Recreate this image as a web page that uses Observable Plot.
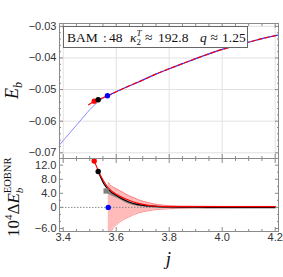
<!DOCTYPE html>
<html><head><meta charset="utf-8">
<script src="https://cdn.jsdelivr.net/npm/d3@7"></script>
<script src="https://cdn.jsdelivr.net/npm/@observablehq/plot@0.6"></script>
<style>
html,body{margin:0;padding:0;background:#fff;}
#wrap{position:relative;width:283px;height:277px;overflow:hidden;background:#fff;}
#wrap > svg{position:absolute;left:0;}
</style></head><body><div id="wrap"></div>
<script>
// ---------- axis ticks ----------
const xMajor = [3.4, 3.6, 3.8, 4.0, 4.2];
const xMinor = [3.45, 3.5, 3.55, 3.65, 3.7, 3.75, 3.85, 3.9, 3.95, 4.05, 4.1, 4.15];
const yTopMajor = [-0.07, -0.06, -0.05, -0.04, -0.03];
const yTopMinor = [-0.068, -0.066, -0.064, -0.062, -0.058, -0.056, -0.054, -0.052, -0.048, -0.046, -0.044, -0.042, -0.038, -0.036, -0.034, -0.032];
const yBotMajor = [-6, 0, 4, 8, 12];
const yBotMinor = [-4, -2, 2, 6, 10];

// ---------- top panel: E_b vs j ----------
const jLow = [3.386, 3.430, 3.470, 3.510, 3.530, 3.550, 3.567];
const eLow = [-0.0675, -0.0632, -0.0593, -0.0555, -0.0540, -0.0528, -0.0520];
const jMain = [3.567, 3.60, 3.65, 3.70, 3.75, 3.80, 3.85, 3.90, 3.95, 4.00, 4.05, 4.10, 4.15, 4.21];
const eMain = [-0.0520, -0.0507, -0.0488, -0.0470, -0.0451, -0.0434, -0.0418, -0.0402, -0.0387, -0.0373, -0.0361, -0.0350, -0.0339, -0.0328];
const jRedTop = [3.496, 3.517, 3.532, 3.550, 3.567];
const eRedTop = [-0.0548, -0.05375, -0.0532, -0.0526, -0.0520];
const jDotsTop = [3.517, 3.532, 3.567];
const eDotsTop = [-0.05366, -0.0532, -0.05195];
const dotColors = ["#ff0000", "#000000", "#0000ff"];

// ---------- bottom panel: 10^4 ΔE_b ----------
const jRed = [3.505, 3.517, 3.532, 3.550, 3.571, 3.608, 3.646, 3.683, 3.721, 3.759, 3.800, 3.900, 4.000, 4.100, 4.200];
const dRed = [15.0, 13.2, 10.5, 7.8, 5.5, 3.4, 2.1, 1.14, 0.57, 0.32, 0.22, 0.2, 0.2, 0.2, 0.2];
const jBlack = [3.532, 3.552, 3.571, 3.608, 3.646, 3.683, 3.721, 3.759, 3.800, 3.900, 4.000, 4.200];
const dBlack = [10.2, 6.9, 5.0, 3.05, 1.6, 0.76, 0.40, 0.22, 0.12, 0.04, 0.02, 0.0];
const jGray = [3.562, 3.580, 3.608, 3.646, 3.683, 3.721, 3.759, 3.800, 3.900, 4.000, 4.200];
const dGray = [4.66, 3.8, 2.9, 1.4, 0.7, 0.35, 0.18, 0.1, 0.03, 0.0, -0.02];
const jBand = [3.570, 3.574, 3.578, 3.583, 3.595, 3.608, 3.627, 3.646, 3.665, 3.683, 3.721, 3.759, 3.797, 3.834, 3.900, 4.000, 4.100, 4.200];
const bandLo = [-14, -9.5, -7.8, -6.6, -5.4, -4.5, -3.5, -2.8, -2.1, -1.6, -0.95, -0.57, -0.40, -0.25, -0.14, -0.08, -0.06, -0.05];
const bandHi = [7.1, 6.7, 6.4, 6.0, 5.5, 5.0, 4.2, 3.4, 2.8, 2.2, 1.34, 0.77, 0.49, 0.35, 0.30, 0.28, 0.28, 0.28];
const jDotsBot = [3.517, 3.532, 3.570];
const dDotsBot = [13.2, 10.2, 0];
const jSquare = [3.562];
const dSquare = [4.66];

// ---------- build tables ----------
const zip = (xs, ys) => xs.map((x, i) => ({x, y: ys[i]}));
const low = zip(jLow, eLow), main = zip(jMain, eMain), redTop = zip(jRedTop, eRedTop);
const dotsTop = jDotsTop.map((x, i) => ({x, y: eDotsTop[i], c: dotColors[i]}));
const red = zip(jRed, dRed), black = zip(jBlack, dBlack), gray = zip(jGray, dGray);
const band = jBand.map((x, i) => ({x, lo: bandLo[i], hi: bandHi[i]}));
const dotsBot = jDotsBot.map((x, i) => ({x, y: dDotsBot[i], c: dotColors[i]}));
const square = zip(jSquare, dSquare);

const FRAME = "#8a8a8a", LABEL = "#333";
const xDomain = [3.386, 4.2125];
const none = () => "";
const commonStyle = {fontFamily: "'Liberation Sans', Arial, sans-serif", fontSize: "11px", color: LABEL, background: "transparent"};

function frameTicks(yMajor, yMinor, yFmt, xLabels) {
  return [
    Plot.axisY({ticks: yMajor, anchor: "left", tickSize: -4, tickPadding: 7, tickFormat: yFmt, label: null, stroke: FRAME, fill: LABEL}),
    Plot.axisY({ticks: yMinor, anchor: "left", tickSize: -2, tickFormat: none, label: null, stroke: FRAME}),
    Plot.axisY({ticks: yMajor, anchor: "right", tickSize: -4, tickFormat: none, label: null, stroke: FRAME}),
    Plot.axisY({ticks: yMinor, anchor: "right", tickSize: -2, tickFormat: none, label: null, stroke: FRAME}),
    Plot.axisX({ticks: xMajor, anchor: "bottom", tickSize: -4, tickPadding: 6, tickFormat: xLabels ? d3.format(".1f") : none, label: null, stroke: FRAME, fill: LABEL}),
    Plot.axisX({ticks: xMinor, anchor: "bottom", tickSize: -2, tickFormat: none, label: null, stroke: FRAME}),
    Plot.axisX({ticks: xMajor, anchor: "top", tickSize: -4, tickFormat: none, label: null, stroke: FRAME}),
    Plot.axisX({ticks: xMinor, anchor: "top", tickSize: -2, tickFormat: none, label: null, stroke: FRAME})
  ];
}

const topPlot = Plot.plot({
  width: 283, height: 158,
  marginLeft: 59, marginRight: 5, marginTop: 23, marginBottom: 0,
  x: {domain: xDomain, label: null},
  y: {domain: [-0.0718, -0.0291], label: null},
  style: commonStyle,
  marks: [
    Plot.ruleX(xMajor, {stroke: "#e2e2e2"}),
    Plot.ruleY(yTopMajor, {stroke: "#e2e2e2"}),
    Plot.line(low, {x: "x", y: "y", stroke: "#8c8cff", strokeWidth: 1, curve: "monotone-x", clip: true}),
    Plot.line(main, {x: "x", y: "y", stroke: "#3030ff", strokeWidth: 1.2, curve: "monotone-x", clip: true}),
    Plot.line(redTop, {x: "x", y: "y", stroke: "#ff0000", strokeWidth: 1.2, curve: "monotone-x"}),
    Plot.line(main, {x: "x", y: "y", stroke: "#ff0000", strokeWidth: 1.2, strokeDasharray: "4,3", curve: "monotone-x", clip: true}),
    Plot.dot(dotsTop, {x: "x", y: "y", fill: "c", r: 2.7}),
    Plot.frame({stroke: FRAME}),
    ...frameTicks(yTopMajor, yTopMinor, d3.format(".2f"), false)
  ]
});

const botPlot = Plot.plot({
  width: 283, height: 119,
  marginLeft: 59, marginRight: 5, marginTop: 0, marginBottom: 46,
  x: {domain: xDomain, label: null},
  y: {domain: [-6.86, 13.9], label: null},
  style: commonStyle,
  marks: [
    Plot.areaY(band, {x: "x", y1: "lo", y2: "hi", fill: "#ff0000", fillOpacity: 0.27, curve: "monotone-x", clip: true}),
    Plot.line(band, {x: "x", y: "hi", stroke: "#ff6f6f", strokeWidth: 0.8, curve: "monotone-x", clip: true}),
    Plot.line(band, {x: "x", y: "lo", stroke: "#ff6f6f", strokeWidth: 0.8, curve: "monotone-x", clip: true}),
    Plot.ruleY([0], {stroke: "#888", strokeDasharray: "1.5,1.5"}),
    Plot.line(gray, {x: "x", y: "y", stroke: "#8a8a8a", strokeWidth: 2.2, curve: "monotone-x", clip: true}),
    Plot.line(black, {x: "x", y: "y", stroke: "#000", strokeWidth: 1.2, curve: "monotone-x", clip: true}),
    Plot.line(red, {x: "x", y: "y", stroke: "#ff0000", strokeWidth: 1.2, curve: "monotone-x", clip: true}),
    Plot.dot(square, {x: "x", y: "y", fill: "#808080", symbol: "square", r: 3}),
    Plot.dot(dotsBot, {x: "x", y: "y", fill: "c", r: 2.7}),
    Plot.frame({stroke: FRAME}),
    ...frameTicks(yBotMajor, yBotMinor, d => d === 0 ? "0" : d3.format(".1f")(d), true)
  ]
});

const wrap = document.getElementById("wrap");
topPlot.style.top = "0px";
botPlot.style.top = "158px";
wrap.appendChild(topPlot);
wrap.appendChild(botPlot);

// ---------- overlay: labels and legend box ----------
const SERIF = "'Liberation Serif', 'Times New Roman', serif";
const ov = d3.select(wrap).append("svg")
  .attr("width", 283).attr("height", 277)
  .style("position", "absolute").style("top", "0px").style("left", "0px")
  .style("pointer-events", "none")
  .attr("font-family", SERIF).attr("fill", "#111");

// legend box
ov.append("rect").attr("x", 63.5).attr("y", 26.5).attr("width", 184).attr("height", 21)
  .attr("fill", "#fff").attr("stroke", "#666").attr("stroke-width", 1);
const FS = 13.5;
const piece = (x, s, italic) => ov.append("text").attr("x", x).attr("y", 42).attr("font-size", FS)
  .attr("font-style", italic ? "italic" : "normal").text(s);
piece(67, "BAM");
piece(103, ":");
piece(109, "48");
const kap = ov.append("text").attr("x", 130).attr("y", 42).attr("font-size", FS);
kap.append("tspan").attr("font-style", "italic").text("κ");
kap.append("tspan").attr("font-size", 9).attr("dy", 3).text("2");
kap.append("tspan").attr("font-size", 9).attr("font-style", "italic").attr("dx", -4.5).attr("dy", -9).text("T");
piece(145, "≈");
piece(158, "192.8");
piece(200, "q", true);
piece(210.5, "≈");
piece(222, "1.25");

// y label top
const yl1 = ov.append("text").attr("transform", "translate(18,99) rotate(-90)").attr("font-size", 18);
yl1.append("tspan").attr("font-style", "italic").text("E");
yl1.append("tspan").attr("font-style", "italic").attr("font-size", 12).attr("dy", 4).text("b");

// y label bottom
const yl2 = ov.append("text").attr("transform", "translate(19,237) rotate(-90)").attr("font-size", 17);
yl2.append("tspan").text("10");
yl2.append("tspan").attr("font-size", 11).attr("dy", -7).text("4");
yl2.append("tspan").attr("dy", 7).text("Δ");
yl2.append("tspan").attr("font-style", "italic").text("E");
yl2.append("tspan").attr("font-style", "italic").attr("font-size", 11).attr("dy", 4).text("b");
yl2.append("tspan").attr("font-size", 10.5).attr("dx", -5.5).attr("dy", -12).text("EOBNR");

// x label
ov.append("text").attr("x", 168.5).attr("y", 265).attr("text-anchor", "middle")
  .attr("font-size", 19).attr("font-style", "italic").text("j");
</script></body></html>
